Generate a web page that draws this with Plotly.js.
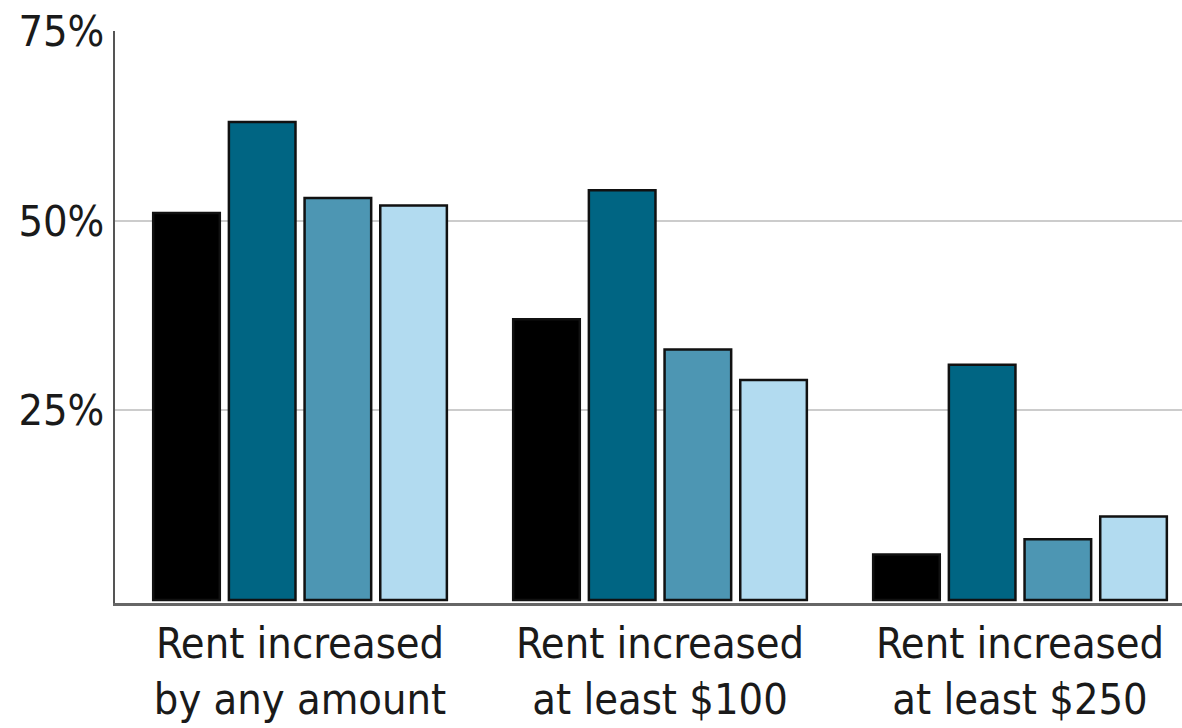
<!DOCTYPE html>
<html>
<head>
<meta charset="utf-8">
<script src="https://cdn.plot.ly/plotly-3.0.1.min.js"></script>
<style>html,body{margin:0;padding:0;background:#fff;}#chart{width:1182px;height:728px;}</style>
</head>
<body>
<div id="chart"></div>
<script>
const categories = ["Rent increased<br>by any amount", "Rent increased<br>at least $100", "Rent increased<br>at least $250"];
const seriesA = [51, 37, 6];
const seriesB = [63, 54, 31];
const seriesC = [53, 33, 8];
const seriesD = [52, 29, 11];
const seriesNames = ["Series 1", "Series 2", "Series 3", "Series 4"];
const colors = ["#000000", "#006583", "#4d96b3", "#b2dbf0"];
const yTickVals = [25, 50, 75];
const yTickText = ["25%", "50%", "75%"];

const fontFam = "'DejaVu Sans Condensed', 'Roboto', sans-serif";
const allSeries = [seriesA, seriesB, seriesC, seriesD];
const traces = allSeries.map((vals, i) => ({
  type: "bar",
  x: [0, 1, 2],
  y: vals,
  name: seriesNames[i],
  marker: {color: colors[i], line: {color: "#111", width: 2.5}},
  hoverinfo: "y"
}));

const layout = {
  width: 1182, height: 728,
  margin: {l: 115, r: 0, t: 31, b: 125},
  paper_bgcolor: "#fff", plot_bgcolor: "#fff",
  showlegend: false,
  barmode: "group",
  bargap: 0.159,
  bargroupgap: 0.12,
  font: {family: fontFam, color: "#1a1a1a"},
  xaxis: {
    range: [-0.514, 2.45],
    tickvals: [0, 1, 2],
    ticktext: categories,
    showgrid: false,
    zeroline: false,
    showline: true,
    linecolor: "#666",
    linewidth: 3,
    ticks: "",
    tickfont: {size: 43, family: fontFam, color: "#1a1a1a"},
    fixedrange: true
  },
  yaxis: {
    range: [-0.4, 75],
    tickvals: yTickVals,
    ticktext: yTickText,
    showgrid: true,
    gridcolor: "#cccccc",
    gridwidth: 2,
    zeroline: false,
    showline: true,
    linecolor: "#555",
    linewidth: 2,
    ticks: "",
    ticklabelstandoff: 0,
    tickfont: {size: 43, family: fontFam, color: "#1a1a1a"},
    fixedrange: true
  }
};

Plotly.newPlot("chart", traces, layout, {displayModeBar: false, staticPlot: true});
</script>
</body>
</html>
